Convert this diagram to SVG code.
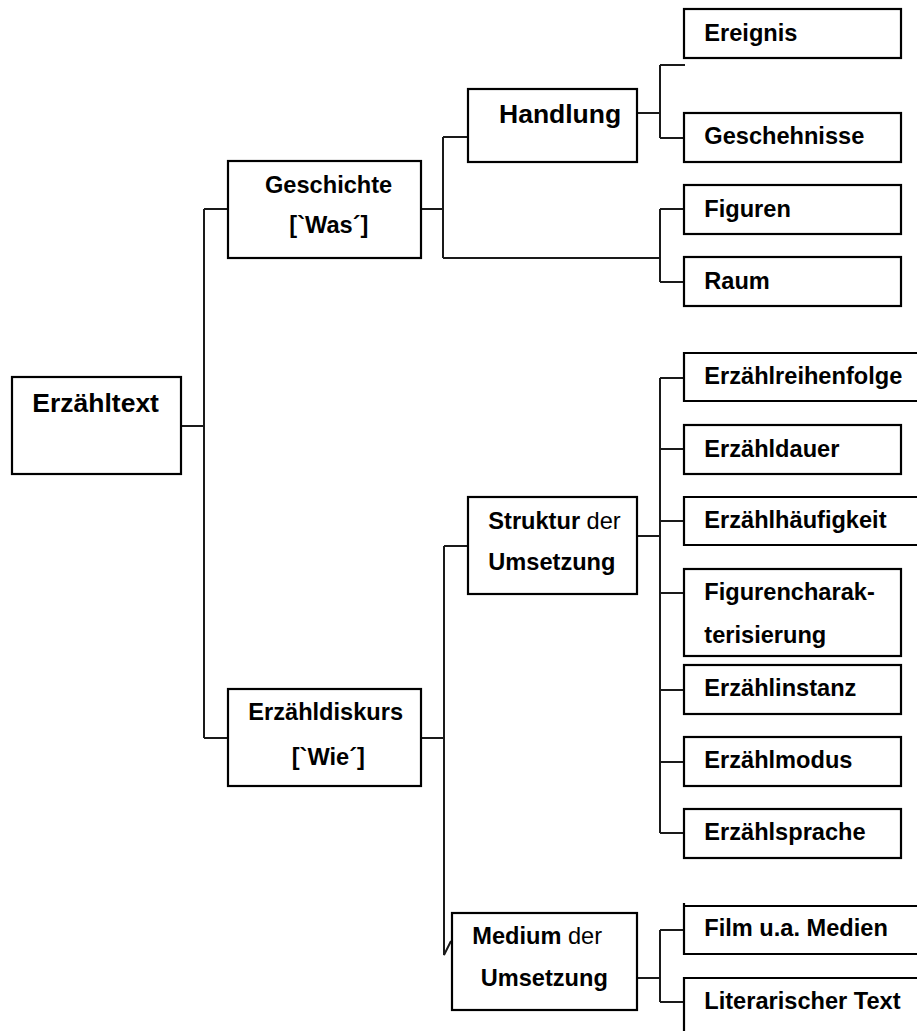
<svg xmlns="http://www.w3.org/2000/svg" width="917" height="1031" viewBox="0 0 917 1031">
<style>
.box{fill:#fff;stroke:#000;stroke-width:2.2}
.open{fill:none;stroke:#000;stroke-width:2.2}
.t{font-family:"Liberation Sans",Arial,sans-serif;font-size:23.6px;font-weight:bold;fill:#000}
.big{font-size:26.5px}
.n{font-weight:normal}
#connectors path{fill:none;stroke:#1a1a1a;stroke-width:2}
</style>
<rect width="917" height="1031" fill="#fff"/>
<g id="connectors">
<path d="M182 426H204M204 209V738M204 209H228M204 738H228"/>
<path d="M421 209H443M443 137V258M443 137H468M443 258H660"/>
<path d="M637 113H660M660 65V138M660 65H685M660 138H684"/>
<path d="M660 209V282M660 209H684M660 282H684"/>
<path d="M421 738H444M444 546V955L451 941M444 546H468"/>
<path d="M637 536H660M660 378V833M660 378H684M660 449H684M660 521H684M660 593H684M660 690H684M660 762H684M660 833H684"/>
<path d="M637 978H660M660 930V1002M660 930H684M660 1002H684"/>
</g>
<g id="erzaehltext"><rect class="box" x="12" y="377" width="169" height="97"/><text class="t big" x="32.3" y="411.7">Erzähltext</text></g>
<g id="geschichte"><rect class="box" x="228" y="161" width="193" height="97"/><text class="t" x="265" y="193">Geschichte</text><text class="t" x="289.3" y="233">[`Was´]</text></g>
<g id="erzaehldiskurs"><rect class="box" x="228" y="689" width="193" height="97"/><text class="t" x="248.3" y="720">Erzähldiskurs</text><text class="t" x="291.7" y="765">[`Wie´]</text></g>
<g id="handlung"><rect class="box" x="468" y="89" width="169" height="73"/><text class="t big" x="499" y="123">Handlung</text></g>
<g id="struktur"><rect class="box" x="468" y="497" width="169" height="97"/><text class="t" x="488.3" y="529">Struktur<tspan class="n"> der</tspan></text><text class="t" x="488.3" y="570">Umsetzung</text></g>
<g id="medium"><rect class="box" x="452" y="913" width="185" height="97"/><text class="t" x="472.3" y="944">Medium<tspan class="n"> der</tspan></text><text class="t" x="480.7" y="986">Umsetzung</text></g>
<g id="ereignis"><rect class="box" x="684" y="9" width="217" height="49"/><text class="t" x="704.3" y="41">Ereignis</text></g>
<g id="geschehnisse"><rect class="box" x="684" y="113" width="217" height="49"/><text class="t" x="704.3" y="144.3">Geschehnisse</text></g>
<g id="figuren"><rect class="box" x="684" y="185" width="217" height="49"/><text class="t" x="704.3" y="217.3">Figuren</text></g>
<g id="raum"><rect class="box" x="684" y="257" width="217" height="49"/><text class="t" x="704.3" y="289">Raum</text></g>
<g id="erzaehlreihenfolge"><path class="open" d="M925 353H684V401H925"/><text class="t" x="704.3" y="384.3">Erzählreihenfolge</text></g>
<g id="erzaehldauer"><rect class="box" x="684" y="425" width="217" height="49"/><text class="t" x="704.3" y="456.7">Erzähldauer</text></g>
<g id="erzaehlhaeufigkeit"><path class="open" d="M925 497H684V545H925"/><text class="t" x="704.3" y="528.3">Erzählhäufigkeit</text></g>
<g id="figurencharakterisierung"><rect class="box" x="684" y="569" width="217" height="87"/><text class="t" x="704.3" y="600">Figurencharak-</text><text class="t" x="704.3" y="642.7">terisierung</text></g>
<g id="erzaehlinstanz"><rect class="box" x="684" y="665" width="217" height="49"/><text class="t" x="704.3" y="696">Erzählinstanz</text></g>
<g id="erzaehlmodus"><rect class="box" x="684" y="737" width="217" height="49"/><text class="t" x="704.3" y="768.3">Erzählmodus</text></g>
<g id="erzaehlsprache"><rect class="box" x="684" y="809" width="217" height="49"/><text class="t" x="704.3" y="840">Erzählsprache</text></g>
<g id="film"><path class="open" d="M925 906H684M684 903V954H925"/><text class="t" x="704.3" y="936">Film u.a. Medien</text></g>
<g id="literarischer-text"><path class="open" d="M925 978H684V1035"/><text class="t" x="704.3" y="1009.3">Literarischer Text</text></g>
</svg>
